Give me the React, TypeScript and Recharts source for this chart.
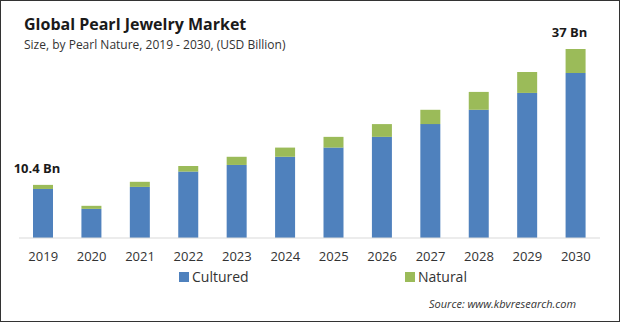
import { Bar, BarChart, LabelList, XAxis, YAxis } from 'recharts';

const YEARS = ['2019', '2020', '2021', '2022', '2023', '2024', '2025', '2026', '2027', '2028', '2029', '2030'];
const CULTURED = [9.6, 5.7, 10.0, 13.0, 14.3, 15.9, 17.7, 19.8, 22.3, 25.1, 28.4, 32.3];
const NATURAL = [0.8, 0.6, 1.0, 1.1, 1.6, 1.8, 2.1, 2.5, 2.8, 3.5, 4.1, 4.7];
const CALLOUTS = ['10.4 Bn', '', '', '', '', '', '', '', '', '', '', '37 Bn'];

const FONT = '"Open Sans", "Noto Sans", sans-serif';
const BLUE = '#4f81bd';
const GREEN = '#9bbb59';

const data = YEARS.map((year, i) => ({
  year,
  cultured: CULTURED[i],
  natural: NATURAL[i],
  callout: CALLOUTS[i],
}));

function Callout(props: any) {
  const { x, y, width, value } = props;
  if (!value) return null;
  return (
    <text
      x={x + width / 2 - 6}
      y={y - 12}
      textAnchor="middle"
      fontFamily={FONT}
      fontSize={13}
      fontWeight={700}
      fill="#1a1a1a"
    >
      {value}
    </text>
  );
}

// legend drawn outside recharts so it does not eat plot height
const LEGEND = [
  { label: 'Cultured', color: BLUE, left: 178 },
  { label: 'Natural', color: GREEN, left: 404 },
];

export default function App() {
  return (
    <div
      style={{
        position: 'fixed',
        left: 0,
        top: 0,
        width: 620,
        height: 322,
        boxSizing: 'border-box',
        border: '1px solid #333',
        background: '#fff',
        fontFamily: FONT,
      }}
    >
      <div style={{ position: 'absolute', left: 23, top: 12, fontSize: 16, fontWeight: 700, color: '#1a1a1a' }}>
        Global Pearl Jewelry Market
      </div>
      <div style={{ position: 'absolute', left: 23, top: 35, fontSize: 12, color: '#333' }}>
        Size, by Pearl Nature, 2019 - 2030, (USD Billion)
      </div>
      <div style={{ position: 'absolute', left: -1, top: -1 }}>
        <BarChart
          width={620}
          height={322}
          data={data}
          margin={{ top: 49, right: 20, bottom: 54, left: 19 }}
        >
          <XAxis
            dataKey="year"
            height={30}
            axisLine={{ stroke: '#d9d9d9' }}
            tickLine={false}
            tick={{ fill: '#333', fontSize: 13, fontFamily: FONT }}
            tickMargin={8}
            interval={0}
          />
          <YAxis hide domain={[0, 37]} />
          <Bar dataKey="cultured" name="Cultured" stackId="a" fill={BLUE} barSize={20} isAnimationActive={false} />
          <Bar dataKey="natural" name="Natural" stackId="a" fill={GREEN} barSize={20} isAnimationActive={false}>
            <LabelList dataKey="callout" content={<Callout />} />
          </Bar>
        </BarChart>
      </div>
      {LEGEND.map((it) => (
        <div
          key={it.label}
          style={{
            position: 'absolute',
            left: it.left,
            top: 266,
            display: 'flex',
            alignItems: 'center',
            fontSize: 14,
            color: '#333',
          }}
        >
          <span style={{ display: 'inline-block', width: 10, height: 10, background: it.color, marginRight: 3 }} />
          <span>{it.label}</span>
        </div>
      ))}
      <div
        style={{
          position: 'absolute',
          left: 428,
          top: 295,
          fontSize: 11,
          fontStyle: 'italic',
          color: '#333',
        }}
      >
        Source: www.kbvresearch.com
      </div>
    </div>
  );
}
